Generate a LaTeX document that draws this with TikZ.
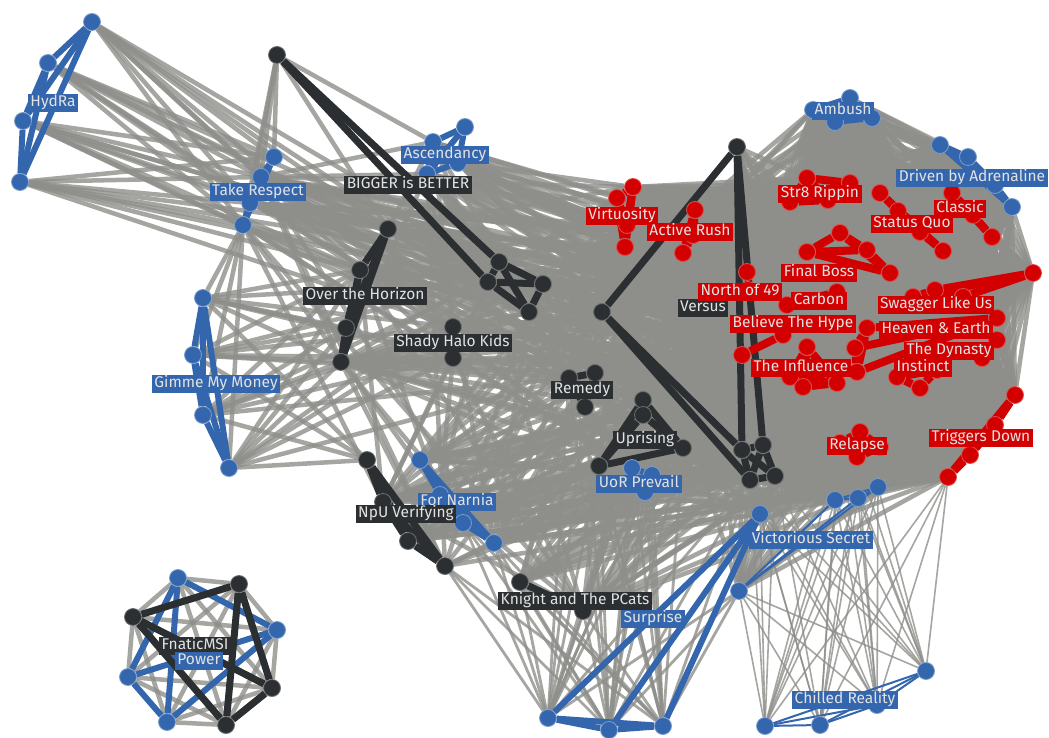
\documentclass[tikz,border=0pt]{standalone}
\usepackage{fontspec}
\setmainfont{Fira Sans}
\usetikzlibrary{backgrounds}
\definecolor{teamblue}{HTML}{3466AE}
\definecolor{teamblack}{HTML}{2B2F31}
\definecolor{teamred}{HTML}{D20000}
\definecolor{edgegray}{HTML}{8E8E8A}
\definecolor{labeltext}{HTML}{E2E2E2}

% complete links inside one list
\newcommand\teamlinks[2]{%
  \foreach \x [count=\i] in #2{%
    \foreach \y [count=\j] in #2{%
      \ifnum\j>\i \draw[#1] (\x) -- (\y);\fi}}}
% links between two lists, every #4-th pair
\newcommand\grayweb[4]{%
  \foreach \x [count=\i] in #2{%
    \foreach \y [count=\j] in #3{%
      \pgfmathtruncatemacro\pick{mod(7*\i+11*\j+\i*\j,#4)}%
      \ifnum\pick=0 \draw[#1] (\x) -- (\y);\fi}}}
\newcommand\grayself[3]{%
  \foreach \x [count=\i] in #2{%
    \foreach \y [count=\j] in #2{%
      \pgfmathtruncatemacro\pick{mod(7*\i+11*\j+\i*\j,#3)}%
      \ifnum\j>\i \ifnum\pick=0 \draw[#1] (\x) -- (\y);\fi\fi}}}

\def\leftset{t1,t2,t3,t4,a3,a4,b2,b3,b4,b5,o1,o2,o3,o4,s1,s2,r1,r2,r3,u1,u2,u3,u4,p1,p2,p3,n1,n2,n3,n4,v1,v2,v3,v4,k1,k2,vr2,sp4,vs1}
\def\eastset{st1,st2,st3,st4,sq1,sq2,sq3,sq4,cl1,cl2,cl3,fi1,fi2,fi3,fi4,no1,no2,ca1,ca2,bh1,bh2,ti1,ti2,ti3,ti4,he1,he2,he3,he4,sw1,sw2,sw3,sw4,dy1,dy2,in1,in2,in3,re1,re2,re3,re4,tg1,tg2,tg3,tg4,vs2,vs3,vs4,vr3,vr4,vr5,vr6}
\def\lowset{vi1,vi2,vi3,vi4,ar1,ar2,ar3,fi1,fi2,fi3,fi4,no1,no2,ca1,ca2,bh1,bh2,ti1,ti2,ti3,ti4,he1,he2,he3,he4,sw1,sw2,sw3,sw4,dy1,dy2,in1,in2,in3,re1,re2,re3,re4,tg1,tg2,tg3,tg4,vs2,vs3,vs4,vr3,vr4,vr5,vr6}
\def\topset{am1,am2,am3,am4,dr1,dr2,dr3,dr4}
\def\westred{vi1,vi2,vi3,vi4,ar1,ar2,ar3}

\begin{document}
\begin{tikzpicture}[x=1pt, y=-1pt,
  dot/.style={circle, minimum size=17pt, inner sep=0pt, line width=0.8pt},
  bn/.style={dot, fill=teamblue, draw=teamblue!65!white},
  kn/.style={dot, fill=teamblack, draw=teamblack!70!white},
  rn/.style={dot, fill=teamred, draw=teamred!70!white},
  lb/.style={fill=#1, text=labeltext, inner xsep=2.5pt, inner ysep=1.8pt,
    text height=11pt, text depth=3.5pt, font=\fontsize{15.5}{17}\selectfont},
  ge/.style={edgegray, opacity=0.8, line width=4.5pt},
  gm/.style={edgegray, opacity=0.8, line width=2.8pt},
  gt/.style={edgegray, opacity=0.8, line width=1.6pt},
  tb/.style={teamblue, line width=6pt},
  tbt/.style={teamblue, line width=2pt},
  tk/.style={teamblack, line width=7pt},
  tr/.style={teamred, line width=8pt}
]
\useasboundingbox (0,0) rectangle (1049,738);

% players
\foreach \n/\px/\py in {h1/92/22, h2/48/63, h3/23/121, h4/20/182,
  t1/274/157, t2/261/177, t3/250/203, t4/243/225,
  a1/465/127, a2/433/142, a3/458/163, a4/427/174,
  g1/203/298, g2/193/355, g3/203/415, g4/229/468,
  p1/632/468, p2/652/475, p3/645/492,
  n1/420/460, n2/440/495, n3/463/523, n4/494/543,
  sp1/548/718, sp2/609/730, sp3/663/726, sp4/760/514,
  vs1/739/591, vs2/835/500, vs3/858/498, vs4/878/487,
  c1/765/726, c2/820/725, c3/877/705, c4/926/671,
  pw1/178/578, pw2/277/630, pw3/128/677, pw4/167/722,
  am1/813/110, am2/850/98, am3/835/122, am4/872/118,
  dr1/940/145, dr2/968/157, dr3/1012/207, dr4/995/185}
  \node[bn] (\n) at (\px,\py) {};
\foreach \n/\px/\py in {b1/277/55, b2/499/262, b3/488/282, b4/543/284, b5/529/312,
  o1/388/229, o2/360/270, o3/346/328, o4/341/362,
  s1/453/327, s2/453/358,
  r1/569/378, r2/595/373, r3/585/407,
  u1/643/400, u2/643/415, u3/683/448, u4/599/466,
  v1/367/460, v2/383/502, v3/408/541, v4/445/566,
  k1/520/582, k2/583/611,
  vr1/737/147, vr2/602/312, vr3/742/450, vr4/763/445, vr5/750/480, vr6/775/476,
  fn1/239/584, fn2/133/617, fn3/272/688, fn4/226/725}
  \node[kn] (\n) at (\px,\py) {};
\foreach \n/\px/\py in {vi1/633/187, vi2/617/198, vi3/627/225, vi4/625/247,
  ar1/695/210, ar2/693/235, ar3/683/253,
  st1/807/178, st2/850/183, st3/790/202, st4/828/200,
  sq1/880/193, sq2/898/211, sq3/920/232, sq4/943/251,
  cl1/952/193, cl2/973/215, cl3/992/237,
  fi1/840/233, fi2/867/250, fi3/890/273, fi4/807/252,
  no1/747/272, no2/748/290, ca1/837/292, ca2/787/305,
  bh1/742/355, bh2/783/335,
  ti1/790/377, ti2/803/387, ti3/807/347, ti4/837/383,
  he1/867/328, he2/997/318, he3/857/372, he4/855/348,
  sw1/1033/273, sw2/913/297, sw3/963/297, sw4/935/290,
  dy1/997/340, dy2/982/358, in1/897/377, in2/920/388, in3/937/370,
  re1/840/443, re2/860/432, re3/880/447, re4/857/457,
  tg1/1015/395, tg2/995/425, tg3/970/455, tg4/948/477}
  \node[rn] (\n) at (\px,\py) {};

% team names
\node[lb=teamblue] (lhydra) at (53,103) {HydRa};
\node[lb=teamblue] (ltake) at (258,192) {Take Respect};
\node[lb=teamblue] (lasc) at (445,155) {Ascendancy};
\node[lb=teamblack] (lbig) at (408,185) {BIGGER is BETTER};
\node[lb=teamblack] (lover) at (365,296) {Over the Horizon};
\node[lb=teamblack] (lshady) at (453,343) {Shady Halo Kids};
\node[lb=teamblue] (lgimme) at (216,384) {Gimme My Money};
\node[lb=teamblack] (lremedy) at (582,390) {Remedy};
\node[lb=teamblack] (lupr) at (645,440) {Uprising};
\node[lb=teamblue] (luor) at (639,484) {UoR Prevail};
\node[lb=teamblue] (lnarnia) at (457,502) {For Narnia};
\node[lb=teamblack] (lnpu) at (406,514) {NpU Verifying};
\node[lb=teamblack] (lknight) at (575,601) {Knight and The PCats};
\node[lb=teamblue] (lsurp) at (653,619) {Surprise};
\node[lb=teamblue] (lvict) at (811,540) {Victorious Secret};
\node[lb=teamblue] (lchill) at (845,700) {Chilled Reality};
\node[lb=teamblack] (lfnatic) at (195,646) {FnaticMSI};
\node[lb=teamblue] (lpower) at (199,661) {Power};
\node[lb=teamred] (lvirt) at (622,216) {Virtuosity};
\node[lb=teamred] (lactive) at (690,232) {Active Rush};
\node[lb=teamblack] (lversus) at (703,308) {Versus};
\node[lb=teamred] (lnorth) at (740,292) {North of 49};
\node[lb=teamred] (lfinal) at (819,273) {Final Boss};
\node[lb=teamred] (lcarbon) at (819,301) {Carbon};
\node[lb=teamred] (lhype) at (793,324) {Believe The Hype};
\node[lb=teamred] (linfl) at (801,368) {The Influence};
\node[lb=teamred] (lstr8) at (820,194) {Str8 Rippin};
\node[lb=teamred] (lstatus) at (912,224) {Status Quo};
\node[lb=teamred] (lclassic) at (960,209) {Classic};
\node[lb=teamblue] (ldriven) at (972,178) {Driven by Adrenaline};
\node[lb=teamblue] (lambush) at (843,111) {Ambush};
\node[lb=teamred] (lswag) at (936,305) {Swagger Like Us};
\node[lb=teamred] (lheaven) at (936,330) {Heaven \& Earth};
\node[lb=teamred] (ldyn) at (949,351) {The Dynasty};
\node[lb=teamred] (linst) at (923,368) {Instinct};
\node[lb=teamred] (lrelapse) at (857,446) {Relapse};
\node[lb=teamred] (ltrig) at (981,438) {Triggers Down};

\begin{scope}[on background layer]
  % matches between teams
  \teamlinks{ge}{\eastset}
  \teamlinks{ge}{\topset}
  \grayweb{ge}{\topset}{\eastset}{1}
  \grayweb{ge}{\topset}{{ar1,ar2,ar3}}{1}
  \teamlinks{ge}{\westred}
  \grayweb{ge}{\westred}{\eastset}{1}
  \grayweb{ge}{\leftset}{\lowset}{3}
  \grayself{ge}{\leftset}{4}
  \grayweb{ge}{{a1,a2}}{{vi1,vi2,vi3,vi4,ar1,ar2,ar3,no1,no2,ca2,bh1,bh2,ti1,fi4,b2,b3,b4,o1,o2,s1,t1,t2,t3,r1,r2}}{2}
  \grayweb{ge}{{vr1}}{{st3,st1,fi4,no1,no2,ca2,bh1,bh2,ti1,ti3,vr3,vr4,re1,he1,sw2}}{1}
  \grayweb{ge}{{h1,h2,h3,h4}}{{t1,t2,t3,t4,o1,o2,b2,b3,s1}}{1}
  \grayweb{ge}{{b1}}{{t1,t2,t3,t4,o1,a2}}{1}
  \grayweb{ge}{{g1,g2,g3,g4}}{{o2,o3,o4,s1,s2,b3,t4,r1,v1}}{1}
  \grayweb{gm}{{sp1,sp2,sp3}}{{k1,k2,p1,p2,p3,u4,u1,u3,r3,n3,n4,v4,vs1,sp4,vr5,r1}}{1}
  \grayweb{gt}{{c1,c2,c3,c4}}{{vs2,vs3,vs4,sp4,vs1,re1,re4,vr5,vr6,tg4}}{1}
  \teamlinks{ge}{{fn1,pw1,fn2,pw2,fn3,pw3,fn4,pw4}}
  % teammates
  \foreach \team in {{h1,h2,h3,h4},{t1,t2,t3,t4},{a1,a2,a3,a4},{g1,g2,g3,g4},
    {p1,p2,p3},{n1,n2,n3,n4},{sp1,sp2,sp3,sp4},{pw1,pw2,pw3,pw4},
    {am1,am2,am3,am4},{dr1,dr2,dr4,dr3}}
    {\teamlinks{tb}{\team}}
  \foreach \team in {{vs1,vs2,vs3,vs4},{c1,c2,c3,c4}}
    {\teamlinks{tbt}{\team}}
  \foreach \team in {{b2,b3,b4,b5},{o1,o2,o3,o4},{s1,s2},{r1,r2,r3},
    {u1,u2,u3,u4},{v1,v2,v3,v4},{k1,k2},{fn1,fn2,fn3,fn4}}
    {\teamlinks{tk}{\team}}
  \foreach \a/\b in {b1/b2, b1/b3, vr1/vr2, vr1/vr3, vr1/vr4, vr2/vr3, vr2/vr5,
    vr3/vr4, vr3/vr5, vr4/vr6, vr5/vr6, vr3/vr6, vr4/vr5}
    {\draw[tk] (\a) -- (\b);}
  \foreach \team in {{vi1,vi2,vi3,vi4},{ar1,ar2,ar3},{st1,st2,st3,st4},
    {sq1,sq2,sq3,sq4},{cl1,cl2,cl3},{fi1,fi2,fi3,fi4},{no1,no2},{ca1,ca2},
    {bh1,bh2},{ti1,ti2,ti3,ti4},{he1,he2,he3,he4},{sw1,sw2,sw3,sw4},
    {dy1,dy2},{in1,in2,in3},{re1,re2,re3,re4},{tg1,tg2,tg3,tg4}}
    {\teamlinks{tr}{\team}}
\end{scope}
\end{tikzpicture}
\end{document}
